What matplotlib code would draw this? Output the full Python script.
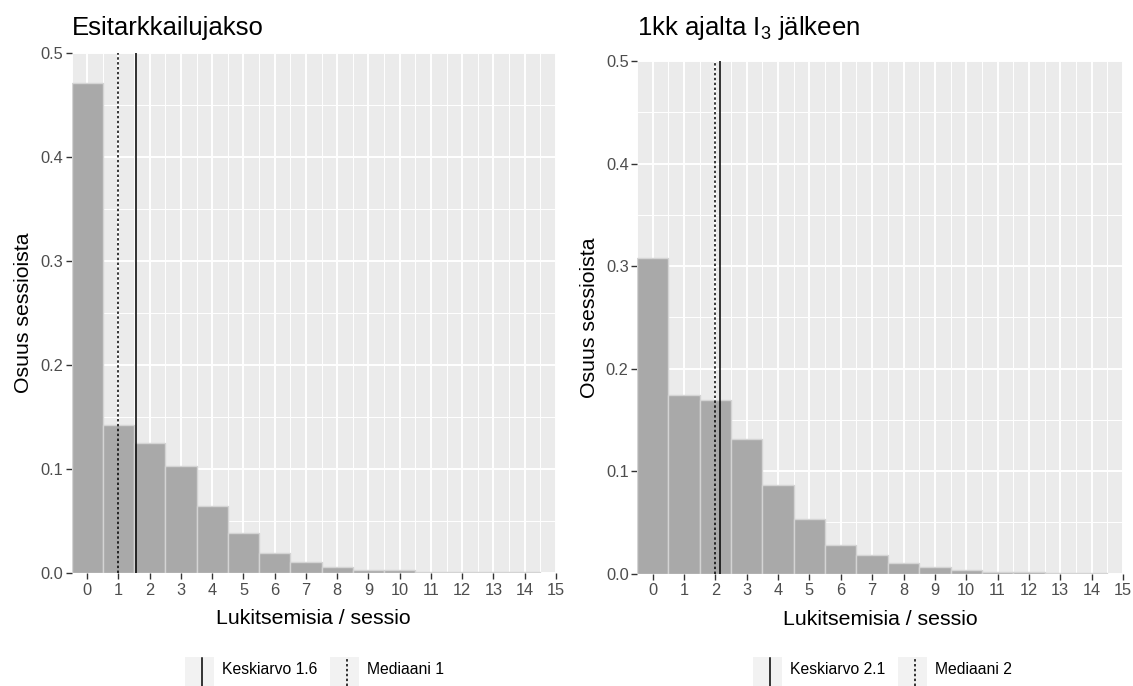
import numpy as np
import matplotlib.pyplot as plt
from matplotlib.patches import Rectangle
from matplotlib.lines import Line2D

plt.rcParams['font.family'] = ['Liberation Sans', 'DejaVu Sans']
plt.rcParams['mathtext.default'] = 'regular'

# share of sessions with 0..14 locks
counts = np.arange(15)
pre_share = [0.471, 0.142, 0.1255, 0.103, 0.065, 0.0387, 0.0195, 0.0106,
             0.0064, 0.003, 0.003, 0.0013, 0.001, 0.0008, 0.0008]
post_share = [0.308, 0.1747, 0.1698, 0.131, 0.0865, 0.0534, 0.0277, 0.0185,
              0.0105, 0.0068, 0.0036, 0.002, 0.0017, 0.0008, 0.0006]
pre_mean, pre_median = 1.57, 1
post_mean, post_median = 2.14, 2

titles = ["Esitarkkailujakso", "1kk ajalta I$_3$ jälkeen"]
xlabel = "Lukitsemisia / sessio"
ylabel = "Osuus sessioista"

W, H = 1133, 686
fig = plt.figure(figsize=(W / 100, H / 100), dpi=100)


def px_axes(left, top, right, bottom):
    return fig.add_axes([left / W, 1 - bottom / H, (right - left) / W, (bottom - top) / H])


ax1 = px_axes(71.6, 52.7, 556, 573.3)
ax2 = px_axes(637, 61.2, 1123, 573.7)

dotted = (0, (1.6, 1.6))


def panel(ax, share, mean, median, title):
    ax.set_facecolor('#EBEBEB')
    for s in ax.spines.values():
        s.set_visible(False)
    ax.bar(counts, share, width=1, color='#A9A9A9', edgecolor='#D4D4D4', linewidth=1.0, zorder=2)
    ax.axvline(mean, color='black', lw=1.1, zorder=3)
    ax.axvline(median, color='black', lw=1.1, ls=dotted, zorder=3)
    ax.set_xlim(-0.5, 15)
    ax.set_ylim(0, 0.5)
    ax.set_xticks(np.arange(16))
    ax.set_xticks(np.arange(-0.5, 15, 0.5), minor=True)
    ax.set_yticks(np.arange(0, 0.51, 0.1))
    ax.set_yticks(np.arange(0.05, 0.5, 0.1), minor=True)
    ax.set_yticklabels([f"{v:.1f}" for v in np.arange(0, 0.51, 0.1)])
    ax.grid(which='major', color='white', lw=1.4, zorder=0)
    ax.grid(which='minor', color='white', lw=0.7, zorder=0)
    ax.set_axisbelow(True)
    ax.tick_params(which='major', length=4, width=1, color='#333333',
                   labelcolor='#4D4D4D', labelsize=11.8)
    ax.tick_params(axis='x', pad=3)
    ax.tick_params(axis='y', pad=2)
    ax.tick_params(which='minor', length=0)
    ax.set_xlabel(xlabel, fontsize=15.3, labelpad=8)
    ax.set_ylabel(ylabel, fontsize=15.3, labelpad=5)
    pos = ax.get_position()
    fig.text(pos.x0, 1 - 35.5 / H, title, fontsize=18.5, va='baseline', ha='left')


def legend(x0, mean, median):
    # two keys: solid line for the mean, dotted for the median
    ytop = 657
    for dx, style, label in [(0, '-', f"Keskiarvo {mean:.1f}"),
                             (145, dotted, f"Mediaani {median}")]:
        fig.add_artist(Rectangle(((x0 + dx) / W, 0), 29 / W, (H - ytop) / H,
                                 transform=fig.transFigure, color='#F2F2F2', lw=0))
        fig.add_artist(Line2D([(x0 + dx + 16.5) / W] * 2, [0, (H - ytop - 1) / H],
                              transform=fig.transFigure, color='black', lw=1.1, ls=style))
        fig.text((x0 + dx + 37) / W, 1 - 670 / H, label, fontsize=11.3, va='center', ha='left')


panel(ax1, pre_share, pre_mean, pre_median, titles[0])
panel(ax2, post_share, post_mean, post_median, titles[1])
legend(185, pre_mean, pre_median)
legend(753, post_mean, post_median)

fig.savefig('out.png', dpi=100)
